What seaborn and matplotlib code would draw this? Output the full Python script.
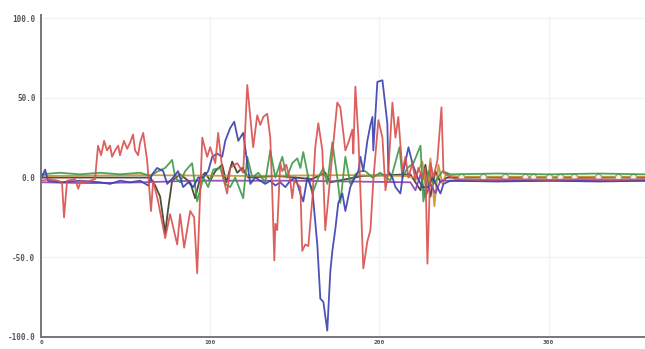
import numpy as np
import pandas as pd
import matplotlib
matplotlib.use("Agg")
import matplotlib.pyplot as plt
import seaborn as sns

# ---------------- data ----------------
red_x = [0, 5.3, 10, 12.4, 13.6, 15.4, 20, 22, 23.5, 26, 32, 32.5, 33.7, 35.5, 37.3, 39, 40.8, 42, 43.8,
         45.6, 46.7, 49, 50.9, 52.7, 54.4, 55.6, 57.4, 58.6, 60.4, 62.7, 65, 66.3, 69.2, 73.4, 76.3,
         80.5, 82.2, 84.6, 88.2, 90.5, 92.3, 95.3, 98.2, 100, 103, 104.7, 107.7, 110, 111.8, 116,
         119.5, 121.9, 125.4, 127.8, 129.6, 131.4, 133.7, 135.5, 136.7, 137.9, 138.5, 139.6, 141.4,
         142.6, 145, 147.3, 148.5, 149.7, 153.3, 154.4, 156.2, 158, 160.4, 162.1, 163.9, 166.3, 168,
         169.8, 172.2, 175.1, 176.9, 179.9, 181.7, 184, 184.6, 185.8, 187.6, 190.5, 192.9, 194.7,
         196.4, 199.4, 201.8, 203.6, 205.3, 207.7, 209.5, 211.2, 213.6, 215.4, 217.2, 219.5, 221.3,
         223, 225.4, 227.2, 228.4, 230.2, 232, 234.3, 236.7, 237.9, 240.8, 245, 260, 280, 300, 320,
         340, 358]
red_y = [-2, -1, -2, -3, -25, -2, -1, -7, -2, -3, -1, 6, 20, 14, 23, 17, 20, 13, 17,
         20, 14, 23, 18, 22, 27, 17, 14, 22, 28, 11, -21, -2, -15, -38, -23,
         -42, -23, -44, -21, -25, -60, 25, 13, 19, 9, 28, 0, -10, 6, 9,
         3, 58, 19, 39, 33, 38, 40, 25, -10, -52, -29, -33, 9,
         4, 8, -2, -13, -2, -6, -46, -42, -43, -13, 19, 34, 17, -33,
         -13, 15, 47, 44, 17, 22, 30, 15, 57, 25, -57, -40, -33,
         -2, 36, 25, -8, 4, 47, 25, 38, 4, 13, 0, 9, -2,
         6, 0, 6, -54, 9, 0, 11, 44, 3, 1, -1, -1.5, -1, -1.5, -1,
         -1.5, -1]

blue_x = [0, 2.4, 4.1, 11.2, 23, 35, 40.8, 46.7, 52.7, 58.6, 63.3, 65.7, 68.6, 72.2, 74.6, 78.1, 81,
          84, 87, 90, 92.9, 95.9, 98.8, 101.2, 104.1, 107.1, 108.9, 111.8, 114.2, 116.6, 119.5,
          121.9, 123.7, 126.6, 129.6, 132.5, 135.5, 138.5, 141.4, 144.4, 147.3, 150.3, 153.3, 155,
          157.4, 160.4, 163.3, 165.1, 166.9, 169.2, 171, 172.2, 174, 175.7, 178.1, 179.9, 182.8,
          184.6, 187.6, 188.8, 190.5, 192.9, 194.7, 195.9, 196.4, 198.8, 201.8, 204.7, 205.3,
          207.7, 209.5, 212.4, 214.2, 217.2, 219.5, 222.5, 225.4, 229, 231.4, 236.1, 237.9, 242,
          270, 300, 330, 358]
blue_y = [-1, 5, -2, -3, -2, -3, -4, -2, -3, -2, -5, 2, 6, 4, -4, 0, 4,
          -6, -3, -6, 0, 0, 4, 13, 15, 13, 23, 31, 35, 23, 28,
          9, -4, 0, -2, -4, -2, -5, -3, -6, -2, 0, -10, -15,
          0, -8, -42, -76, -78, -96, -59, -46, -32, -16, -10, -21, -6,
          -2, 4, 13, 4, 23, 33, 38, 17, 60, 61, 34, 4,
          0, -6, -10, 4, 19, 9, 0, -6, -6, 0, -10, -4, -2,
          -2.5, -2, -2.5, -2]

green_x = [0, 11.2, 23, 35, 46.7, 58.6, 64.5, 69.2, 73.4, 77.5, 79.3, 82.2, 85.2, 89.3, 92.3, 95.9,
           98.8, 101.8, 105.9, 108.9, 111.8, 114.8, 119.5, 121.9, 124.9, 128.4, 132.5, 135.5, 138.5,
           142.6, 145.3, 148.5, 151.5, 153.3, 155, 158, 160.4, 163.9, 166.9, 169.2, 172.2, 175.1,
           176.9, 179.9, 182.8, 185.8, 188.8, 191.7, 195.9, 200.6, 206.5, 211.9, 213.6, 216.6,
           220.1, 224.3, 226, 229, 232, 237.3, 242, 270, 300, 330, 358]
green_y = [2, 3, 2, 3, 2, 3, 1, 4, 6, 11, 0, -3, 4, 9, -15, 0,
           -6, 5, 6, -4, -6, 0, -13, 13, 0, 3, -3, 17, 0,
           13, 0, 9, 12, 6, 16, 0, -10, 0, 6, -4, 22, 0,
           -16, 13, -4, 2, 4, 4, 0, 3, -2, 19, 0, 6,
           9, 20, -15, 4, -4, 4, 2, 2.5, 2, 2.5, 2]

black_x = [0, 64.5, 67.5, 70.4, 73.4, 75.1, 77.5, 82.2, 88.2, 91.1, 94.1, 97, 100, 103, 107.1,
           109.5, 113, 116, 118.9, 122.5, 140, 160, 168, 171, 190, 218.3, 224.3, 227.2, 230.2,
           233.1, 236.1, 240, 358]
black_y = [0, 0, -5, -12, -35, -20, -2, 2, -3, -13, 0, 3, -2, 4, 8,
           -3, 10, 3, 6, 0, 1, -1, 3, -3, 1, 2, -8, 8, -12,
           4, -3, 0, 0]

orange_x = [0, 60, 120, 180, 215, 221.3, 225.4, 227.8, 230.2, 232.5, 234.9, 237.3, 239.6, 242,
            248, 261, 274, 286, 291, 300, 307, 315, 329, 341, 350, 358]
orange_y = [1, 1.5, 1, 1.5, 1, 0, 10, -10, 12, -18, 8, -4, 3, 1,
            0.5, 0.5, 0.5, 0.5, 0.5, 0.5, 0.5, 0.5, 0.5, 0.5, 0.5, 0.5]

purple_x = [0, 30, 60, 90, 150, 218.3, 221.3, 224.3, 227.2, 230.2, 233.1, 236.1, 242, 300, 358]
purple_y = [-3, -3.5, -3, -2, -2, -3, -8, 2, -12, -4, -10, -2, -2, -2, -2]

y_ticks = [-100, -50, 0, 50, 100]
y_tick_labels = ["-100.0", "-50.0", "0.0", "50.0", "100.0"]
x_ticks = [0, 100, 200, 300]
x_tick_labels = ["0", "100", "200", "300"]

series = {
    "black": (black_x, black_y),
    "orange": (orange_x, orange_y),
    "purple": (purple_x, purple_y),
    "green": (green_x, green_y),
    "blue": (blue_x, blue_y),
    "red": (red_x, red_y),
}
colors = {
    "black": "#3a3a22",
    "orange": "#c9902e",
    "purple": "#8e3fb5",
    "green": "#3c9a46",
    "blue": "#3a3fb0",
    "red": "#d8504e",
}

frames = []
for name, (xs, ys) in series.items():
    frames.append(pd.DataFrame({"x": xs, "y": ys, "s": name, "i": range(len(xs))}))
df = pd.concat(frames, ignore_index=True)

# ---------------- figure ----------------
sns.set_theme(style="white")
fig = plt.figure(figsize=(6.45, 3.49), dpi=100)
ax = fig.add_axes([0.0636, 0.0344, 0.9364, 0.923])

for x in x_ticks[1:]:
    ax.axvline(x, color="#f3f3f3", lw=1, zorder=0)
for y in y_ticks:
    ax.axhline(y, color="#f3f3f3", lw=1, zorder=0)

for name in series:
    sub = df[df["s"] == name]
    kw = {}
    if name == "orange":
        start = int((sub["x"] > 245).idxmax() - sub.index[0])
        kw = dict(marker="o", markevery=list(range(start, len(sub) - 1)), markersize=4.5,
                  markerfacecolor="white", markeredgecolor="#a0a080", markeredgewidth=1)
    sns.lineplot(data=sub, x="x", y="y", color=colors[name], lw=1.3, sort=False,
                 estimator=None, ax=ax, alpha=0.9, **kw)

ax.set_xlim(0, 357)
ax.set_ylim(-100, 102)
ax.set_xlabel("")
ax.set_ylabel("")
ax.set_xticks(x_ticks)
ax.set_xticklabels(x_tick_labels)
ax.set_yticks(y_ticks)
ax.set_yticklabels(y_tick_labels)

for side in ["top", "right"]:
    ax.spines[side].set_visible(False)
for side in ["left", "bottom"]:
    ax.spines[side].set_color("#777777")
    ax.spines[side].set_linewidth(1.4)

ax.tick_params(axis="both", direction="inout", length=6, width=1, color="#666666",
               labelcolor="#555555")
ax.tick_params(axis="y", labelsize=5.5, pad=1)
ax.tick_params(axis="x", labelsize=4.5, pad=0, length=4)
for lab in ax.get_xticklabels() + ax.get_yticklabels():
    lab.set_family("DejaVu Sans Mono")
    lab.set_fontweight("bold")

fig.savefig("out.png", dpi=100, facecolor="white")
